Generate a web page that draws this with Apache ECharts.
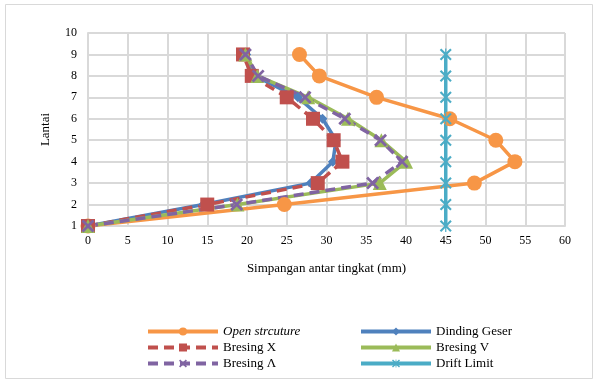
<!DOCTYPE html>
<html>
<head>
<meta charset="utf-8">
<script src="https://cdn.jsdelivr.net/npm/echarts@6/dist/echarts.min.js"></script>
<style>html,body{margin:0;padding:0;background:#fff}#c{width:597px;height:381px}</style>
</head>
<body>
<div id="c"></div>
<script>
const floors = [1, 2, 3, 4, 5, 6, 7, 8, 9];
const openStructure = [0, 24.7, 48.6, 53.7, 51.3, 45.5, 36.3, 29.1, 26.6];
const dindingGeser = [0, 14.5, 28.0, 30.8, 31.2, 29.5, 26.4, 21.0, 19.9];
const bresingX = [0, 15.0, 28.9, 32.0, 30.9, 28.3, 25.0, 20.6, 19.5];
const bresingV = [0, 18.8, 36.7, 40.0, 36.9, 32.7, 27.7, 21.3, 19.8];
const bresingL = [0, 18.7, 35.8, 39.5, 36.8, 32.3, 27.3, 21.4, 19.8];
const driftLimit = [45, 45, 45, 45, 45, 45, 45, 45, 45];
const xTicks = [0, 5, 10, 15, 20, 25, 30, 35, 40, 45, 50, 55, 60];
const yTicks = [1, 2, 3, 4, 5, 6, 7, 8, 9, 10];

const pair = arr => arr.map((v, i) => [v, floors[i]]);
const XPATH = 'path://M0,3 L3,0 L10,7 L17,0 L20,3 L13,10 L20,17 L17,20 L10,13 L3,20 L0,17 L7,10 Z';
const ASTER = 'path://M0,2.5 L2.5,0 L9,6.5 L9,0 L11,0 L11,6.5 L17.5,0 L20,2.5 L12.5,10 L20,17.5 L17.5,20 L11,13.5 L11,20 L9,20 L9,13.5 L2.5,20 L0,17.5 L7.5,10 Z';
const font = 'Liberation Serif';

const mk = (name, arr, color, symbol, size, dashed) => ({
  name, type: 'line', data: pair(arr), symbol, symbolSize: size,
  lineStyle: { color, width: 3.5, type: dashed ? [10, 6] : 'solid' },
  itemStyle: { color },
  z: 2
});

const series = [
  mk('Open strcuture', openStructure, '#F79646', 'circle', 15, false),
  mk('Dinding Geser', dindingGeser, '#4F81BD', 'diamond', 10, false),
  mk('Bresing X', bresingX, '#C0504D', 'rect', 14, true),
  mk('Bresing V', bresingV, '#9BBB59', 'triangle', 14, false),
  mk('Bresing Λ', bresingL, '#8064A2', XPATH, 13, true),
  mk('Drift Limit', driftLimit, '#4BACC6', ASTER, 12, false)
];

const chart = echarts.init(document.getElementById('c'), null, { renderer: 'canvas' });
const legendCommon = {
  orient: 'vertical', itemWidth: 70, itemHeight: 10, itemGap: 3,
  lineStyle: { width: 4 },
  textStyle: { fontFamily: font, fontSize: 13, color: '#000' },
  selectedMode: false
};
chart.setOption({
  animation: false,
  backgroundColor: '#fff',
  graphic: [{ type: 'rect', shape: { x: 5.5, y: 4.5, width: 587, height: 374 },
    style: { fill: 'none', stroke: '#d9d9d9', lineWidth: 1 }, silent: true }],
  grid: { left: 88, right: 32, top: 33, bottom: 155 },
  xAxis: {
    type: 'value', min: xTicks[0], max: xTicks[xTicks.length - 1], interval: 5,
    name: 'Simpangan antar tingkat (mm)', nameLocation: 'middle', nameGap: 36,
    nameTextStyle: { fontFamily: font, fontSize: 13, color: '#000' },
    axisLine: { show: true, lineStyle: { color: '#d9d9d9', width: 2 } },
    axisTick: { show: false },
    axisLabel: { fontFamily: font, fontSize: 12, color: '#000', margin: 9 },
    splitLine: { show: true, lineStyle: { color: '#d9d9d9', width: 2 } }
  },
  yAxis: {
    type: 'value', min: yTicks[0], max: yTicks[yTicks.length - 1], interval: 1,
    name: 'Lantai', nameLocation: 'middle', nameGap: 36, nameRotate: 90,
    nameTextStyle: { fontFamily: font, fontSize: 13, color: '#000' },
    axisLine: { show: true, lineStyle: { color: '#d9d9d9', width: 2 } },
    axisTick: { show: false },
    axisLabel: { fontFamily: font, fontSize: 12, color: '#000', margin: 11 },
    splitLine: { show: true, lineStyle: { color: '#d9d9d9', width: 2 } }
  },
  legend: [
    Object.assign({}, legendCommon, { left: 141, top: 320,
      data: [{ name: 'Open strcuture', textStyle: { fontStyle: 'italic' } }, 'Bresing X', 'Bresing Λ'] }),
    Object.assign({}, legendCommon, { left: 354, top: 320,
      data: ['Dinding Geser', 'Bresing V', 'Drift Limit'] })
  ],
  series
});
</script>
</body>
</html>
